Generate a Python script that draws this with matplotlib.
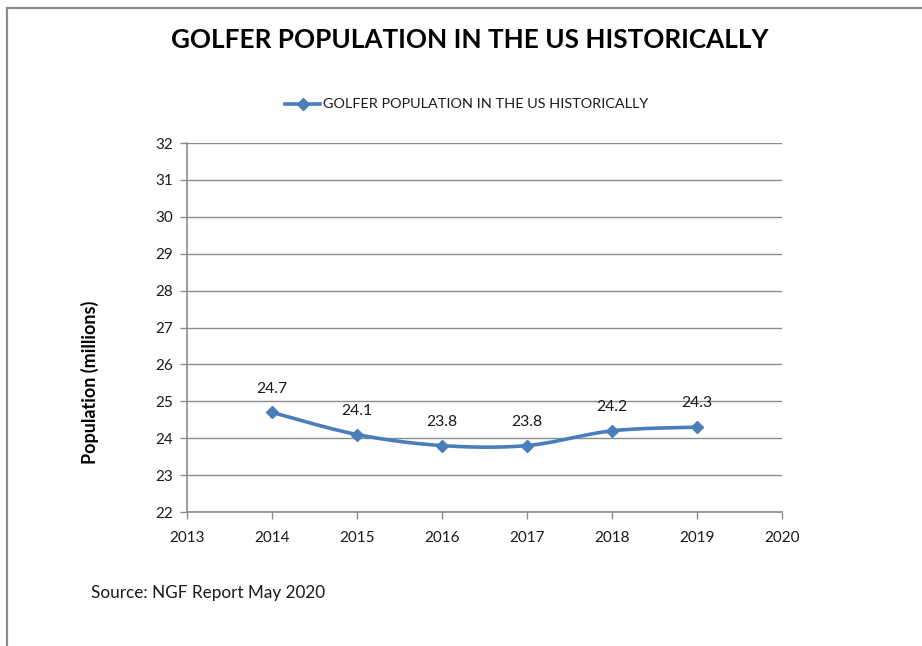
import numpy as np
import matplotlib
matplotlib.use("Agg")
import matplotlib.pyplot as plt
from matplotlib.lines import Line2D

years = [2014, 2015, 2016, 2017, 2018, 2019]
golfers = [24.7, 24.1, 23.8, 23.8, 24.2, 24.3]
series_name = "GOLFER POPULATION IN THE US HISTORICALLY"
title = "GOLFER POPULATION IN THE US HISTORICALLY"
y_label = "Population (millions)"
source = "Source: NGF Report May 2020"

plt.rcParams["font.family"] = ["Lato", "DejaVu Sans"]

W, H = 922, 646
fig = plt.figure(figsize=(W / 100, H / 100), dpi=100)
fig.patch.set_facecolor("white")

# Chart frame (top and left edges)
fig.add_artist(Line2D([7 / W, 1], [1 - 8 / H, 1 - 8 / H], color="#8c8c8c", lw=1.6))
fig.add_artist(Line2D([7 / W, 7 / W], [0, 1 - 8 / H], color="#8c8c8c", lw=1.6))

ax = fig.add_axes([187 / W, 1 - 512 / H, (782 - 187) / W, (512 - 143) / H])


def smooth(xs, ys, n=40):
    """Catmull-Rom style smoothing through every point."""
    xs = np.asarray(xs, float)
    ys = np.asarray(ys, float)
    px = np.concatenate([[xs[0]], xs, [xs[-1]]])
    py = np.concatenate([[ys[0]], ys, [ys[-1]]])
    out_x, out_y = [], []
    t = np.linspace(0, 1, n)
    for i in range(1, len(px) - 2):
        p0, p1, p2, p3 = (np.array([px[j], py[j]]) for j in range(i - 1, i + 3))
        c1 = p1 + (p2 - p0) / 6
        c2 = p2 - (p3 - p1) / 6
        b = ((1 - t) ** 3)[:, None] * p1 + (3 * (1 - t) ** 2 * t)[:, None] * c1 \
            + (3 * (1 - t) * t ** 2)[:, None] * c2 + (t ** 3)[:, None] * p2
        out_x.extend(b[:, 0])
        out_y.extend(b[:, 1])
    return out_x, out_y


blue = "#4A7EBB"
sx, sy = smooth(years, golfers)
ax.plot(sx, sy, color=blue, lw=2.6, solid_capstyle="round", zorder=3)
ax.plot(years, golfers, ls="none", marker="D", ms=6.5, color=blue, zorder=4)

for x, y in zip(years, golfers):
    ax.annotate(f"{y:.1f}", (x, y), xytext=(0, 12), textcoords="offset points",
                ha="center", va="bottom", fontsize=11.3, color="#1a1a1a")

ax.set_xlim(2013, 2020)
ax.set_ylim(22, 32)
ax.set_xticks(range(2013, 2021))
ax.set_yticks(range(22, 33))
ax.grid(axis="y", color="#8c8c8c", lw=1.0)
ax.set_axisbelow(True)
for s in ["top", "right"]:
    ax.spines[s].set_visible(False)
for s in ["left", "bottom"]:
    ax.spines[s].set_color("#8c8c8c")
    ax.spines[s].set_linewidth(1.2)
ax.tick_params(axis="both", colors="#8c8c8c", labelcolor="#1a1a1a", labelsize=11,
               length=5, width=1.0, direction="out")
ax.tick_params(axis="x", pad=9)
ax.tick_params(axis="y", pad=5)

fig.text(470 / W, 1 - 40 / H, title, ha="center", va="center",
         fontsize=18.8, fontweight="bold", color="black")

# Legend entry
ly = 1 - 104 / H
fig.add_artist(Line2D([285 / W, 320 / W], [ly, ly], color=blue, lw=2.6))
fig.add_artist(Line2D([302.5 / W], [ly], color=blue, marker="D", ms=6.5, ls="none"))
fig.text(323 / W, ly, series_name, ha="left", va="center", fontsize=10.4, color="#1a1a1a")

fig.text(90 / W, 1 - 382 / H, y_label, rotation=90, ha="center", va="center",
         fontsize=13, fontweight="bold", color="black")
fig.text(91 / W, 1 - 593 / H, source, ha="left", va="center", fontsize=12.3, color="#1a1a1a")

fig.savefig("out.png", dpi=100, facecolor="white")
